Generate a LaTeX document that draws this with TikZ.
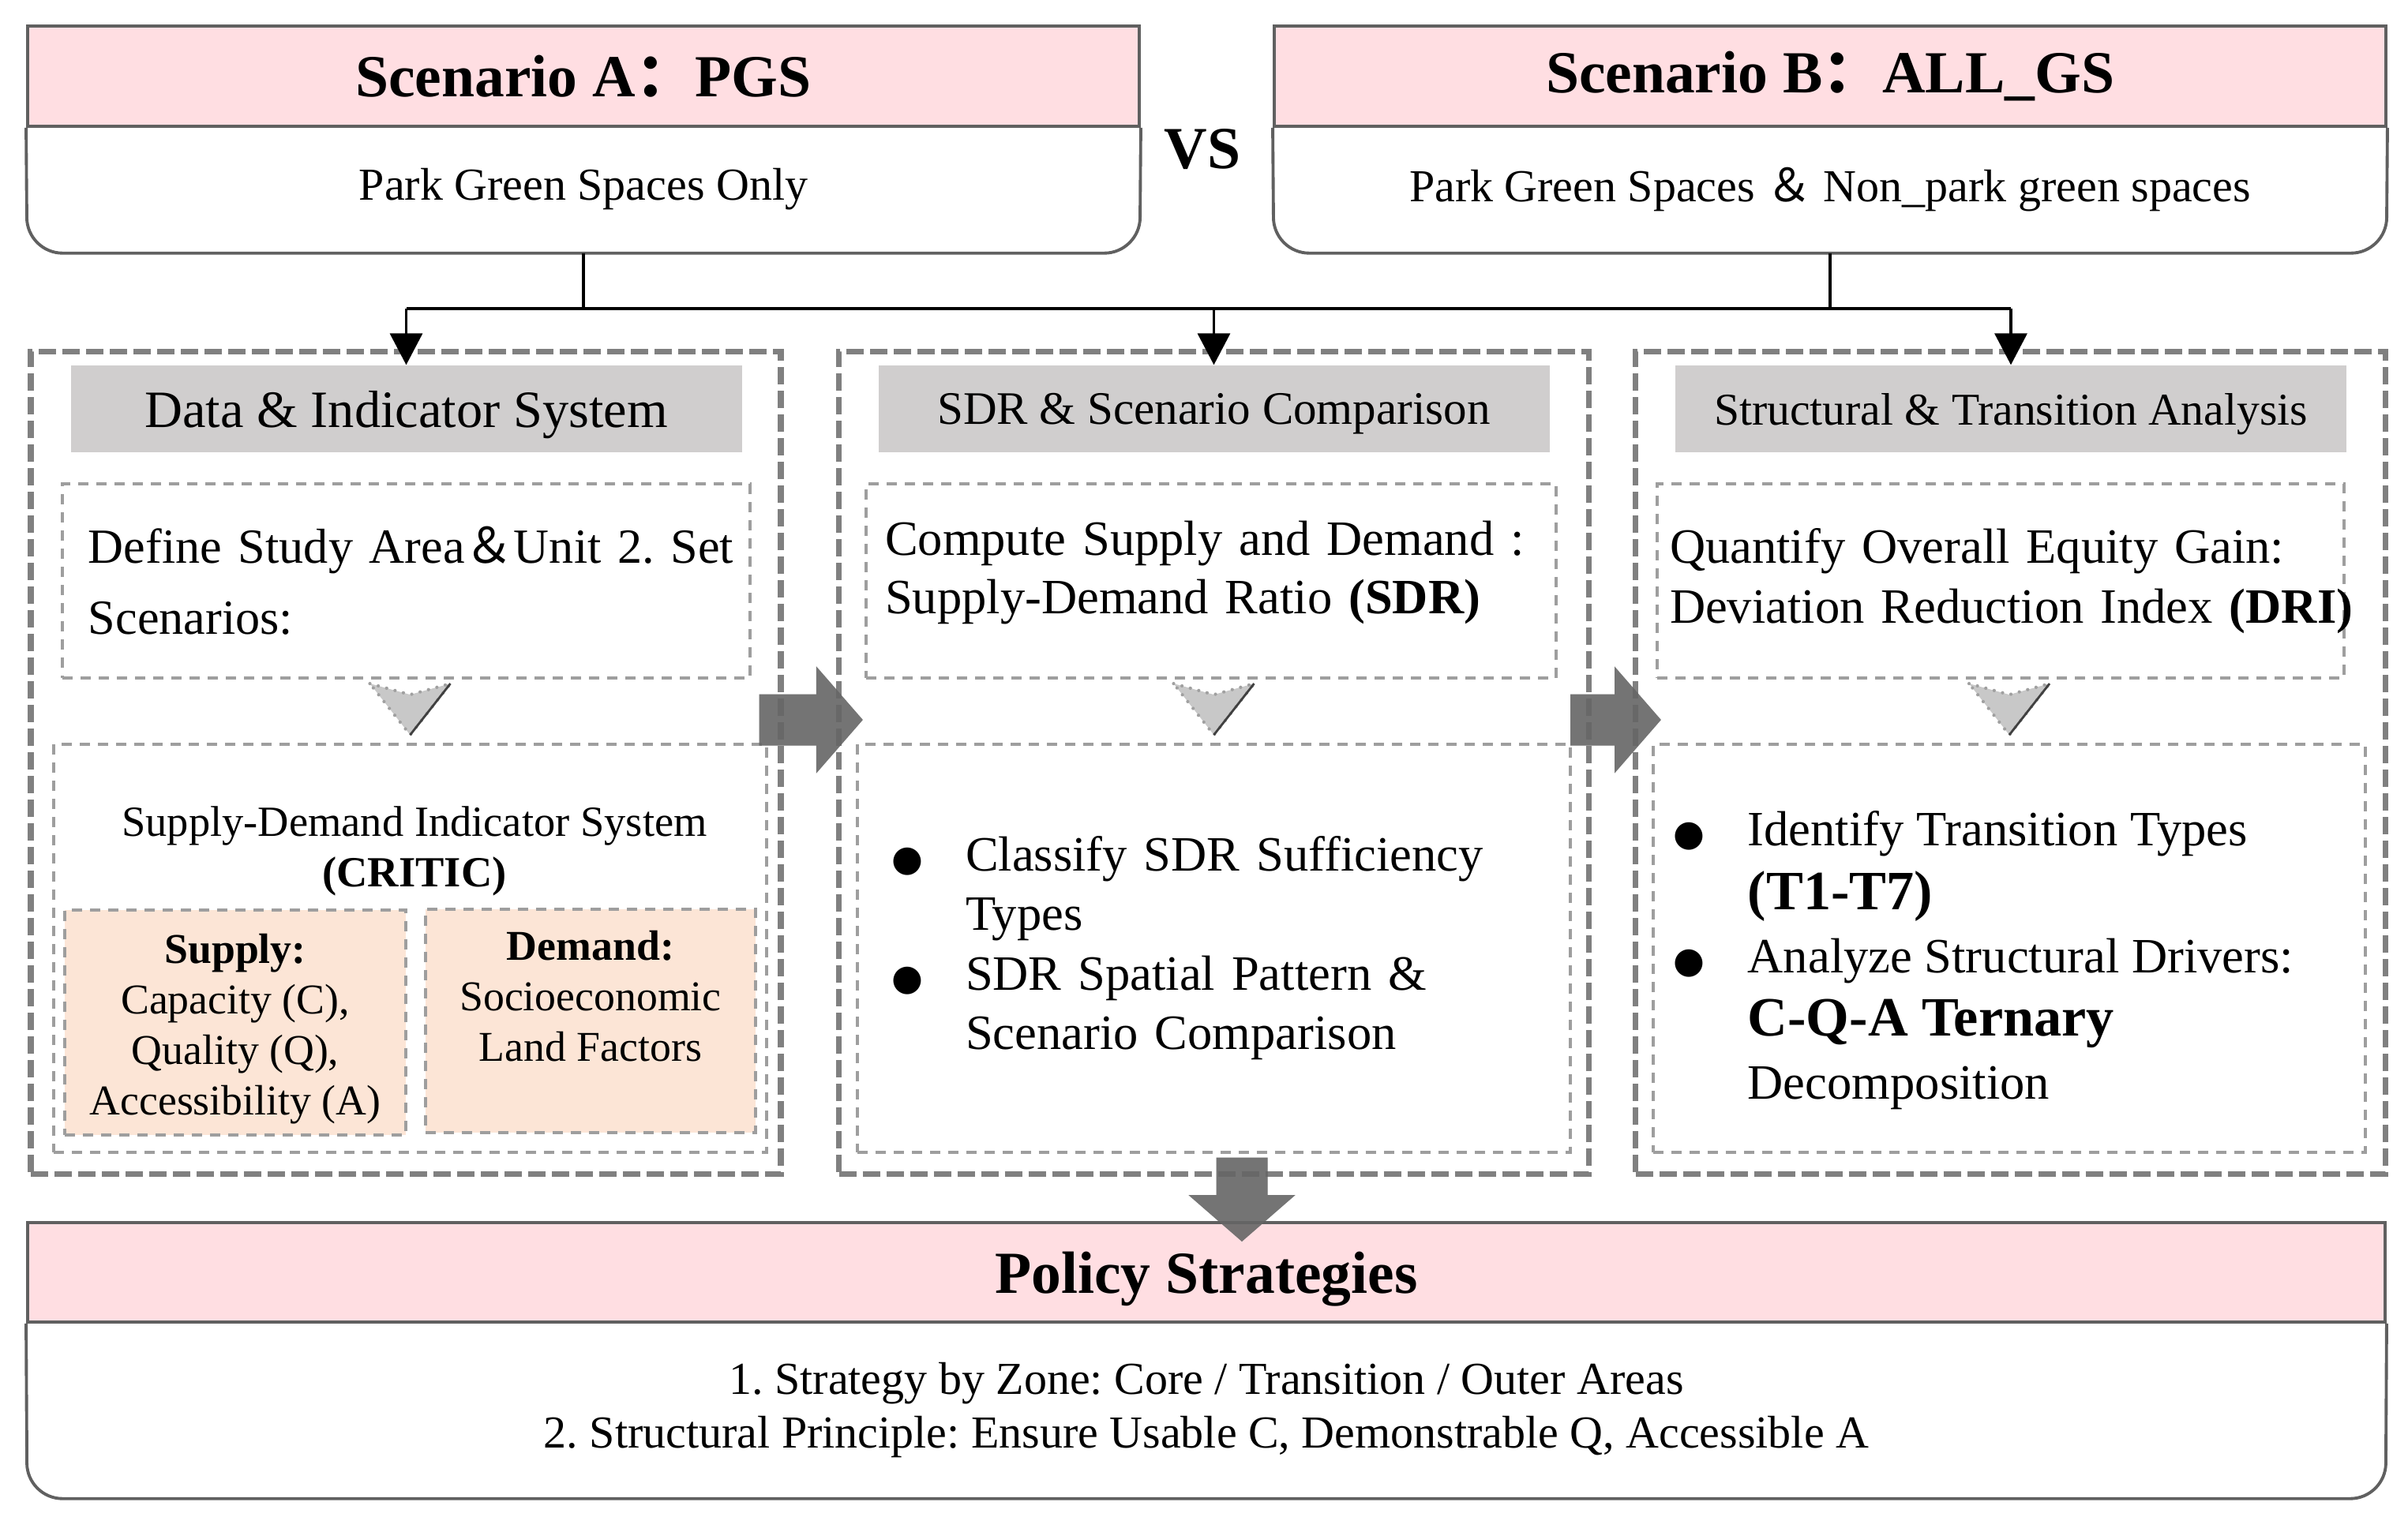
\documentclass[tikz,border=0pt]{standalone}
\usepackage{fontspec}
\setmainfont{Liberation Serif}
\newfontfamily\cjk{Noto Sans CJK SC}
\newfontfamily\symb{DejaVu Sans}
\usetikzlibrary{arrows.meta}
\frenchspacing

\definecolor{headpink}{RGB}{255,222,226}
\definecolor{headgray}{RGB}{208,206,206}
\definecolor{peach}{RGB}{252,229,214}
\definecolor{framegray}{RGB}{96,96,96}
\definecolor{dashgray}{RGB}{128,128,128}
\definecolor{lightdash}{RGB}{158,158,158}
\definecolor{arrowgray}{RGB}{104,104,104}
\definecolor{chevgray}{RGB}{200,200,200}
\definecolor{chevdot}{RGB}{160,160,160}

\newcommand{\bulletglyph}{{\symb\fontsize{13}{13}\selectfont ●}}
\newcommand{\bigbold}[1]{{\fontsize{20}{22.8}\selectfont\bfseries #1}}

\begin{document}
\begin{tikzpicture}[
  scenhead/.style={draw=framegray, line width=1.1pt, fill=headpink, minimum width=14.08cm,
    minimum height=1.27cm, inner sep=0pt, font=\fontsize{21.5}{25}\selectfont\bfseries},
  scenbody/.style={minimum width=14.08cm, minimum height=1.60cm, inner sep=0pt,
    font=\fontsize{16.5}{19.4}\selectfont},
  boxline/.style={draw=framegray, line width=1.1pt, rounded corners=0.45cm},
  wire/.style={line width=1pt},
  link/.style={wire, -{Triangle[length=0.40cm,width=0.41cm]}},
  colframe/.style={draw=dashgray, line width=2pt, dash pattern=on 0.22cm off 0.08cm,
    minimum width=9.50cm, minimum height=10.42cm},
  colhead/.style={fill=headgray, minimum width=8.5cm, minimum height=1.10cm, inner sep=0pt,
    text depth=0pt},
  infobox/.style={draw=lightdash, line width=1.1pt, dash pattern=on 0.13cm off 0.10cm, fill=white},
  factorbox/.style={infobox, fill=peach, align=center, inner sep=0pt,
    font=\fontsize{15.3}{18.2}\selectfont},
  chevron/.style={fill=chevgray, draw=chevdot, line width=1.2pt, dash pattern=on 0pt off 0.11cm,
    line cap=round},
  bigarrow/.style={line width=0.65cm, draw=arrowgray, -{Triangle[length=0.59cm,width=1.32cm]}}
]
\useasboundingbox (0,0) rectangle (30.5,-19.21);

% Scenario boxes
\node[scenhead] (hA) at (7.39,-0.965) {Scenario A{\cjk ：}PGS};
\node[scenbody] (bA) at (7.39,-2.40) {Park Green Spaces Only};
\draw[boxline] (hA.south west) -- (bA.south west) -- (bA.south east) -- (hA.south east);

\node[scenhead] (hB) at (23.18,-0.965) {Scenario B{\cjk ：}ALL\_GS};
\node[scenbody] (bB) at (23.18,-2.40) {Park Green Spaces {\cjk ＆} Non\_park green spaces};
\draw[boxline] (hB.south west) -- (bB.south west) -- (bB.south east) -- (hB.south east);

\node[font=\fontsize{21.5}{25}\selectfont\bfseries] (vs) at (15.23,-1.89) {VS};

% The three columns
\node[colframe] (c1) at (5.14,-9.66) {};
\node[colframe] (c2) at (15.375,-9.66) {};
\node[colframe] (c3) at (25.465,-9.66) {};

\node[colhead, font=\fontsize{18.9}{22}\selectfont] (hd1) at (5.145,-5.18) {Data \& Indicator System};
\node[colhead, font=\fontsize{16.8}{20}\selectfont] (hd2) at (15.375,-5.18) {SDR \& Scenario Comparison};
\node[colhead, font=\fontsize{16.4}{20}\selectfont] (hd3) at (25.47,-5.18) {Structural \& Transition Analysis};

% Branching from the scenarios
\coordinate (split) at (0,-3.91);
\draw[wire] (bA.south) -- (bA.south |- split);
\draw[wire] (bB.south) -- (bB.south |- split);
\draw[wire] (hd1.north |- split) -- (hd3.north |- split);
\foreach \h in {hd1,hd2,hd3}
  \draw[link] (\h.north |- split) -- (\h.north);

% Upper steps
\node[infobox, minimum height=2.46cm, text width=8.05cm, inner xsep=0.33cm, align=left,
  font=\fontsize{17.7}{25.6}\selectfont] (i1) at (5.145,-7.36)
  {\mbox{Define Study Area{\cjk ＆}Unit 2. Set}\\Scenarios:};
\node[infobox, minimum height=2.46cm, text width=8.26cm, inner xsep=0.24cm, align=left,
  text depth=1.08cm, font=\fontsize{17.8}{21}\selectfont] (i2) at (15.34,-7.36)
  {Compute Supply and Demand :\\Supply-Demand Ratio \textbf{(SDR)}};
\node[infobox, minimum height=2.46cm, text width=8.38cm, inner xsep=0.16cm, align=left,
  font=\fontsize{17.8}{21.6}\selectfont] (i3) at (25.34,-7.36)
  {Quantify Overall Equity Gain:\\\mbox{Deviation Reduction Index \textbf{(DRI)}}};

% Lower steps
\node[infobox, minimum width=9.03cm, minimum height=5.17cm] (l1) at (5.195,-12.015) {};
\node[font=\fontsize{15.5}{18.2}\selectfont, align=center] (sdt) at (5.25,-10.78)
  {Supply-Demand Indicator System\\\textbf{(CRITIC)}};
\node[factorbox, minimum width=4.32cm, minimum height=2.85cm, text height=2.45cm] (sup) at (2.98,-12.955)
  {\textbf{Supply:}\\Capacity (C),\\Quality (Q),\\Accessibility (A)};
\node[factorbox, minimum width=4.18cm, minimum height=2.83cm] (dem) at (7.48,-12.935)
  {\textbf{Demand:}\\Socioeconomic\\Land Factors\\\mbox{}};

\node[infobox, minimum height=5.17cm, text width=8.17cm, inner xsep=0.43cm, align=left,
  font=\fontsize{17.8}{21.4}\selectfont] (l2) at (15.375,-12.015)
  {\begin{tabular}{@{}p{0.94cm}@{}l@{}}
   \bulletglyph & Classify SDR Sufficiency\\
   & Types\\
   \bulletglyph & SDR Spatial Pattern \&\\
   & Scenario Comparison
   \end{tabular}};
\node[infobox, minimum width=9.02cm, minimum height=5.17cm] (l3) at (25.45,-12.015) {};
\node[anchor=north west, inner sep=0pt, font=\fontsize{17.8}{22.8}\selectfont] (l3txt)
  at ([shift={(0.27,-0.74)}]l3.north west)
  {\begin{tabular}{@{}p{0.94cm}@{}l@{}}
   \bulletglyph & Identify Transition Types\\
   & \bigbold{(T1-T7)}\\
   \bulletglyph & Analyze Structural Drivers:\\
   & \bigbold{C-Q-A Ternary}\\
   & Decomposition
   \end{tabular}};

% Small arrowheads between the steps
\foreach \n in {1,2,3} {
  \filldraw[chevron] ([shift={(-0.51,0.75)}]l\n.north) -- ([yshift=0.61cm]l\n.north)
    -- ([shift={(0.51,0.75)}]l\n.north) -- ([yshift=0.10cm]l\n.north) -- cycle;
  \draw[line width=0.8pt, black!75] ([shift={(0.51,0.75)}]l\n.north) -- ([yshift=0.10cm]l\n.north);
}

% Policy box
\node[scenhead, minimum width=29.86cm, minimum height=1.26cm, text depth=0pt] (pol) at (15.28,-16.12) {Policy Strategies};
\node[scenbody, minimum width=29.86cm, minimum height=2.23cm, align=center] (polb) at (15.28,-17.865)
  {1. Strategy by Zone: Core / Transition / Outer Areas\\
   2. Structural Principle: Ensure Usable C, Demonstrable Q, Accessible A};
\draw[boxline] (pol.south west) -- (polb.south west) -- (polb.south east) -- (pol.south east);

% Big grey arrows, with a soft shadow
\begin{scope}[transparency group, opacity=0.18, shift={(0.07,-0.07)}]
\draw[bigarrow, draw=black] ([shift={(-0.31,0.54)}]c1.east) -- ([shift={(0.34,0.54)}]c2.west);
\draw[bigarrow, draw=black] ([shift={(-0.27,0.54)}]c2.east) -- ([shift={(0.36,0.54)}]c3.west);
\draw[bigarrow, draw=black] ([shift={(0.355,0.24)}]c2.south) -- ([shift={(0.45,-0.26)}]pol.north);
\end{scope}
\begin{scope}[transparency group, opacity=0.88]
\draw[bigarrow] ([shift={(-0.31,0.54)}]c1.east) -- ([shift={(0.34,0.54)}]c2.west);
\draw[bigarrow] ([shift={(-0.27,0.54)}]c2.east) -- ([shift={(0.36,0.54)}]c3.west);
\draw[bigarrow] ([shift={(0.355,0.24)}]c2.south) -- ([shift={(0.45,-0.26)}]pol.north);
\end{scope}

\end{tikzpicture}
\end{document}
